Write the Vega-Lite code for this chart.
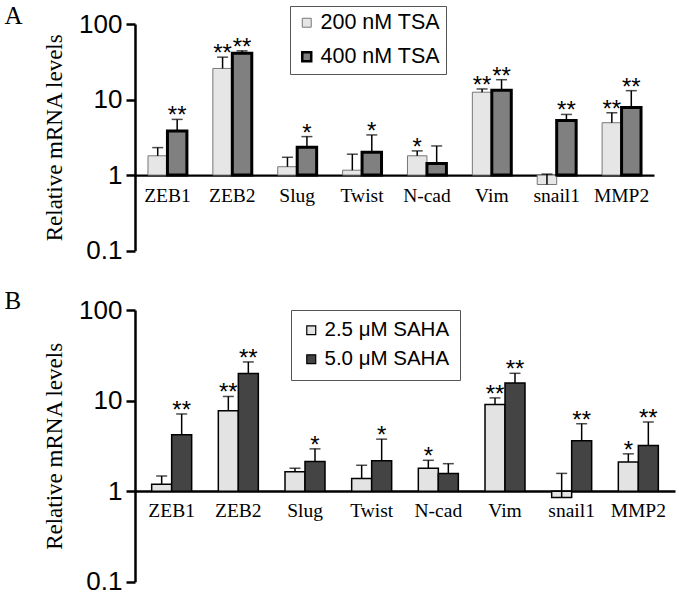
{
  "$schema": "https://vega.github.io/schema/vega-lite/v6.json",
  "background": "white",
  "padding": {"left": 4, "top": 3, "right": 2, "bottom": 0},
  "spacing": 25,
  "resolve": {
    "scale": {"x": "independent", "y": "independent", "xOffset": "independent", "fill": "independent", "stroke": "independent", "strokeWidth": "independent"},
    "legend": {"fill": "independent"}
  },
  "config": {
    "view": {"stroke": null},
    "font": "Liberation Sans",
    "axis": {"grid": false, "domainColor": "black", "tickColor": "black", "labelColor": "black", "titleColor": "black"}
  },
  "datasets": {
    "A": [
      {"gene": "ZEB1", "group": "200 nM TSA", "value": 1.80, "err": 2.31, "sig": ""},
      {"gene": "ZEB1", "group": "400 nM TSA", "value": 3.83, "err": 5.46, "sig": "**"},
      {"gene": "ZEB2", "group": "200 nM TSA", "value": 25.8, "err": 36.4, "sig": "**"},
      {"gene": "ZEB2", "group": "400 nM TSA", "value": 41.1, "err": 44.1, "sig": "**"},
      {"gene": "Slug", "group": "200 nM TSA", "value": 1.29, "err": 1.72, "sig": ""},
      {"gene": "Slug", "group": "400 nM TSA", "value": 2.34, "err": 3.23, "sig": "*"},
      {"gene": "Twist", "group": "200 nM TSA", "value": 1.16, "err": 1.89, "sig": ""},
      {"gene": "Twist", "group": "400 nM TSA", "value": 2.01, "err": 3.40, "sig": "*"},
      {"gene": "N-cad", "group": "200 nM TSA", "value": 1.80, "err": 2.09, "sig": "*"},
      {"gene": "N-cad", "group": "400 nM TSA", "value": 1.42, "err": 2.43, "sig": ""},
      {"gene": "Vim", "group": "200 nM TSA", "value": 12.5, "err": 13.8, "sig": "**"},
      {"gene": "Vim", "group": "400 nM TSA", "value": 13.3, "err": 18.3, "sig": "**"},
      {"gene": "snail1", "group": "200 nM TSA", "value": 0.75, "err": 1.03, "sig": ""},
      {"gene": "snail1", "group": "400 nM TSA", "value": 5.29, "err": 6.35, "sig": "**"},
      {"gene": "MMP2", "group": "200 nM TSA", "value": 4.93, "err": 6.68, "sig": "**"},
      {"gene": "MMP2", "group": "400 nM TSA", "value": 7.85, "err": 13.1, "sig": "**"}
    ],
    "B": [
      {"gene": "ZEB1", "group": "2.5 μM SAHA", "value": 1.19, "err": 1.47, "sig": ""},
      {"gene": "ZEB1", "group": "5.0 μM SAHA", "value": 4.19, "err": 7.11, "sig": "**"},
      {"gene": "ZEB2", "group": "2.5 μM SAHA", "value": 7.74, "err": 11.1, "sig": "**"},
      {"gene": "ZEB2", "group": "5.0 μM SAHA", "value": 19.9, "err": 26.7, "sig": "**"},
      {"gene": "Slug", "group": "2.5 μM SAHA", "value": 1.64, "err": 1.79, "sig": ""},
      {"gene": "Slug", "group": "5.0 μM SAHA", "value": 2.12, "err": 2.93, "sig": "*"},
      {"gene": "Twist", "group": "2.5 μM SAHA", "value": 1.38, "err": 1.93, "sig": ""},
      {"gene": "Twist", "group": "5.0 μM SAHA", "value": 2.17, "err": 3.75, "sig": "*"},
      {"gene": "N-cad", "group": "2.5 μM SAHA", "value": 1.79, "err": 2.19, "sig": "*"},
      {"gene": "N-cad", "group": "5.0 μM SAHA", "value": 1.57, "err": 2.01, "sig": ""},
      {"gene": "Vim", "group": "2.5 μM SAHA", "value": 9.03, "err": 10.7, "sig": "**"},
      {"gene": "Vim", "group": "5.0 μM SAHA", "value": 15.6, "err": 20.0, "sig": "**"},
      {"gene": "snail1", "group": "2.5 μM SAHA", "value": 0.85, "err": 1.57, "sig": ""},
      {"gene": "snail1", "group": "5.0 μM SAHA", "value": 3.59, "err": 5.55, "sig": "**"},
      {"gene": "MMP2", "group": "2.5 μM SAHA", "value": 2.10, "err": 2.58, "sig": "*"},
      {"gene": "MMP2", "group": "5.0 μM SAHA", "value": 3.19, "err": 5.79, "sig": "**"}
    ]
  },
  "vconcat": [
    {
      "width": 519,
      "height": 226.6,
      "data": {"name": "A"},
      "title": {"text": "A", "anchor": "start", "frame": "bounds", "font": "Liberation Serif", "fontSize": 25, "fontWeight": "normal", "color": "black", "dx": -39, "dy": 23, "offset": 0},
      "encoding": {
        "x": {"field": "gene", "type": "nominal", "sort": ["ZEB1", "ZEB2", "Slug", "Twist", "N-cad", "Vim", "snail1", "MMP2"],
              "scale": {"paddingInner": 0.4, "paddingOuter": 0.2},
              "axis": {"title": null, "orient": "bottom", "offset": -75.5, "labelAngle": 0, "ticks": false, "domainWidth": 2.2, "labelFont": "Liberation Serif", "labelFontSize": 19.5, "labelPadding": 11}},
        "xOffset": {"field": "group", "type": "nominal", "sort": ["200 nM TSA", "400 nM TSA"]}
      },
      "layer": [
        {
          "mark": {"type": "bar"},
          "encoding": {
            "y": {"field": "value", "type": "quantitative", "scale": {"type": "log", "domain": [0.1, 100]},
                  "axis": {"title": "Relative mRNA levels", "values": [0.1, 1, 10, 100], "format": "~g", "domainWidth": 2.5, "tickWidth": 2.5, "tickSize": 9, "labelFontSize": 26, "labelPadding": 4, "titleFont": "Liberation Serif", "titleFontSize": 23, "titleFontWeight": "normal", "titlePadding": 12}},
            "y2": {"datum": 1},
            "fill": {"field": "group", "type": "nominal", "sort": ["200 nM TSA", "400 nM TSA"], "scale": {"range": ["#e6e6e6", "#808080"]},
                     "legend": {"title": null, "orient": "none", "legendX": 155, "legendY": -18, "strokeColor": "#555555", "padding": 6, "labelFontSize": 21.5, "labelFont": "Liberation Sans", "labelColor": "black", "symbolType": "square", "symbolSize": 80, "rowPadding": 11, "labelOffset": 3,
                                "encode": {"symbols": {"update": {"stroke": {"signal": "datum.value === '400 nM TSA' ? 'black' : '#777777'"}, "strokeWidth": {"signal": "datum.value === '400 nM TSA' ? 2.5 : 1"}}}}}},
            "stroke": {"field": "group", "type": "nominal", "sort": ["200 nM TSA", "400 nM TSA"], "scale": {"range": ["#777777", "black"]}, "legend": null},
            "strokeWidth": {"field": "group", "type": "nominal", "sort": ["200 nM TSA", "400 nM TSA"], "scale": {"range": [1, 3]}, "legend": null}
          }
        },
        {
          "mark": {"type": "rule", "color": "black", "strokeWidth": 1.5},
          "encoding": {"y": {"field": "value", "type": "quantitative"}, "y2": {"field": "err"}}
        },
        {
          "mark": {"type": "tick", "color": "black", "thickness": 1.5, "size": 11, "orient": "horizontal"},
          "encoding": {"y": {"field": "err", "type": "quantitative"}}
        },
        {
          "mark": {"type": "text", "font": "Liberation Sans", "fontSize": 24, "baseline": "alphabetic", "dy": 4, "color": "black"},
          "encoding": {"y": {"field": "err", "type": "quantitative"}, "text": {"field": "sig"}}
        }
      ]
    },
    {
      "width": 540,
      "height": 271.7,
      "data": {"name": "B"},
      "title": {"text": "B", "anchor": "start", "frame": "bounds", "font": "Liberation Serif", "fontSize": 25, "fontWeight": "normal", "color": "black", "dx": -39, "dy": 17, "offset": 0},
      "encoding": {
        "x": {"field": "gene", "type": "nominal", "sort": ["ZEB1", "ZEB2", "Slug", "Twist", "N-cad", "Vim", "snail1", "MMP2"],
              "scale": {"paddingInner": 0.4, "paddingOuter": 0.25},
              "axis": {"title": null, "orient": "bottom", "offset": -90.6, "labelAngle": 0, "ticks": false, "domainWidth": 2.5, "labelFont": "Liberation Serif", "labelFontSize": 19.5, "labelPadding": 10}},
        "xOffset": {"field": "group", "type": "nominal", "sort": ["2.5 μM SAHA", "5.0 μM SAHA"]}
      },
      "layer": [
        {
          "mark": {"type": "bar"},
          "encoding": {
            "y": {"field": "value", "type": "quantitative", "scale": {"type": "log", "domain": [0.1, 100]},
                  "axis": {"title": "Relative mRNA levels", "values": [0.1, 1, 10, 100], "format": "~g", "domainWidth": 2.5, "tickWidth": 2.5, "tickSize": 9, "labelFontSize": 26, "labelPadding": 4, "titleFont": "Liberation Serif", "titleFontSize": 23, "titleFontWeight": "normal", "titlePadding": 12}},
            "y2": {"datum": 1},
            "fill": {"field": "group", "type": "nominal", "sort": ["2.5 μM SAHA", "5.0 μM SAHA"], "scale": {"range": ["#e3e3e3", "#444444"]},
                     "legend": {"title": null, "orient": "none", "legendX": 156, "legendY": 0, "strokeColor": "#555555", "padding": 10, "labelFontSize": 20.5, "labelFont": "Liberation Sans", "labelColor": "black", "symbolType": "square", "symbolSize": 80, "symbolStrokeColor": "black", "symbolStrokeWidth": 1.2, "rowPadding": 8, "labelOffset": 3}},
            "stroke": {"value": "black"},
            "strokeWidth": {"value": 1.5}
          }
        },
        {
          "mark": {"type": "rule", "color": "black", "strokeWidth": 1.5},
          "encoding": {"y": {"field": "value", "type": "quantitative"}, "y2": {"field": "err"}}
        },
        {
          "mark": {"type": "tick", "color": "black", "thickness": 1.5, "size": 11, "orient": "horizontal"},
          "encoding": {"y": {"field": "err", "type": "quantitative"}}
        },
        {
          "mark": {"type": "text", "font": "Liberation Sans", "fontSize": 24, "baseline": "alphabetic", "dy": 4, "color": "black"},
          "encoding": {"y": {"field": "err", "type": "quantitative"}, "text": {"field": "sig"}}
        }
      ]
    }
  ]
}
